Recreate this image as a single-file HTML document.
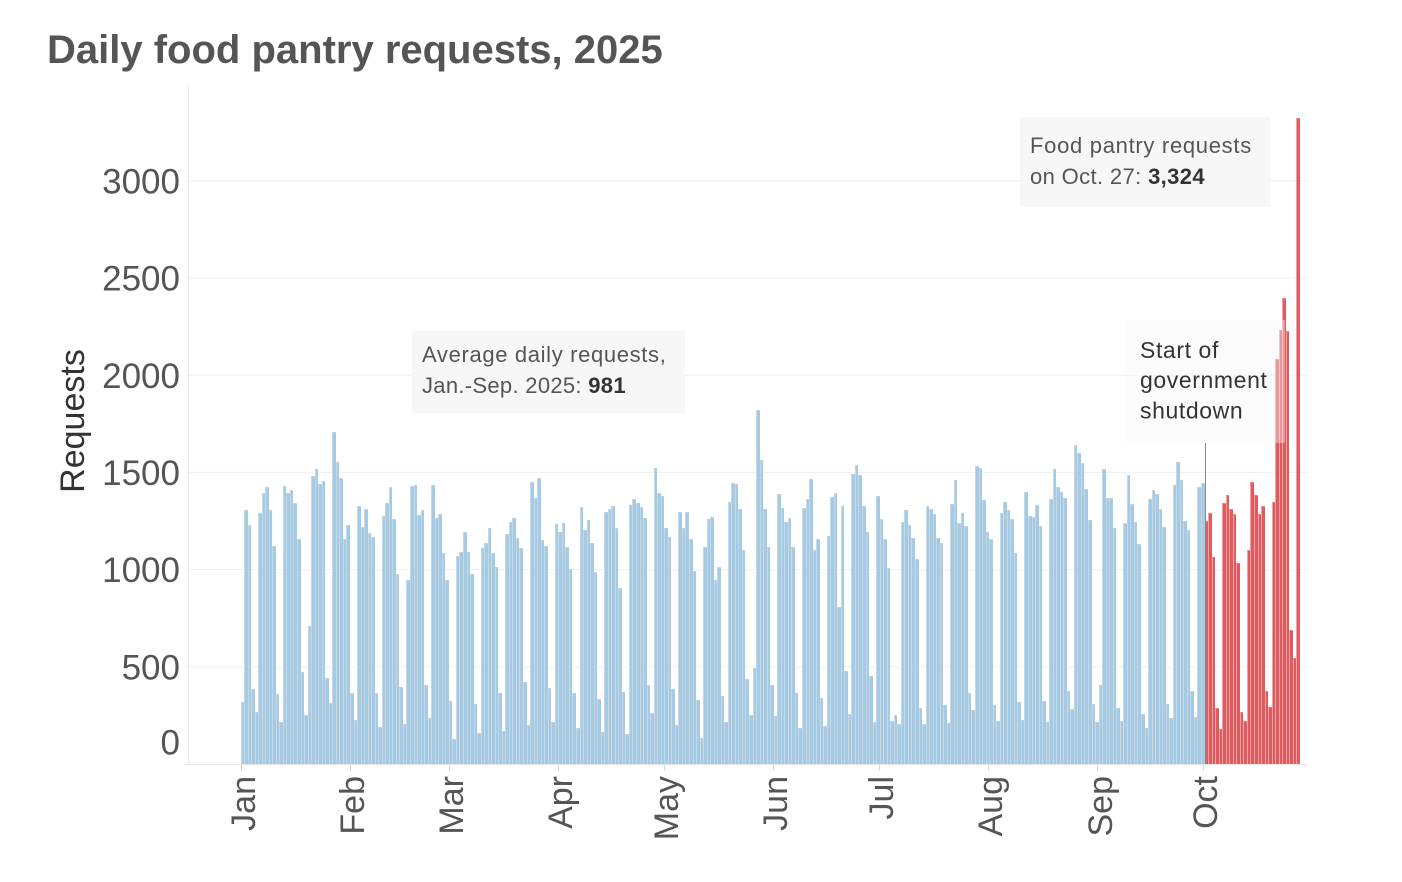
<!DOCTYPE html>
<html>
<head>
<meta charset="utf-8">
<style>
  html,body{margin:0;padding:0;background:#fff;}
  body{width:1402px;height:882px;overflow:hidden;position:relative;font-family:"Liberation Sans",Arial,sans-serif;}
  svg{position:absolute;left:0;top:0;}
  .bars{position:absolute;left:240.5px;top:0;height:764px;display:flex;align-items:flex-end;}
  .bars i{display:block;flex:0 0 3.535px;width:3.535px;box-sizing:border-box;height:calc(var(--v)*0.1944px);background:#a4cbe6;border-left:1px solid #cbd7e0;border-top:1px solid #c3d0da;}
  .bars i.r{background:#e05a5e;border-left:1px solid #e9a5a7;border-top:1px solid #d9898b;}
</style>
</head>
<body>
<svg width="1402" height="882" xmlns="http://www.w3.org/2000/svg">
  <text x="47" y="63" font-family="Liberation Sans, Arial, sans-serif" font-weight="bold" font-size="40" fill="#555">Daily food pantry requests, 2025</text>
  <g stroke="#efefef" stroke-width="1">
    <line x1="188" y1="666.8" x2="1308" y2="666.8"/>
    <line x1="188" y1="569.6" x2="1308" y2="569.6"/>
    <line x1="188" y1="472.4" x2="1308" y2="472.4"/>
    <line x1="188" y1="375.2" x2="1308" y2="375.2"/>
    <line x1="188" y1="278" x2="1308" y2="278"/>
    <line x1="188" y1="180.8" x2="1308" y2="180.8"/>
  </g>
  <line x1="188.5" y1="85" x2="188.5" y2="764" stroke="#e8e8e8" stroke-width="1"/>
  <line x1="184" y1="764.5" x2="1308" y2="764.5" stroke="#e4e4e4" stroke-width="1"/>
  <g stroke="#dddddd" stroke-width="1">
    <line x1="241.5" y1="765" x2="241.5" y2="771"/>
    <line x1="350.5" y1="765" x2="350.5" y2="771"/>
    <line x1="449.5" y1="765" x2="449.5" y2="771"/>
    <line x1="558.5" y1="765" x2="558.5" y2="771"/>
    <line x1="664.5" y1="765" x2="664.5" y2="771"/>
    <line x1="773.5" y1="765" x2="773.5" y2="771"/>
    <line x1="879.5" y1="765" x2="879.5" y2="771"/>
    <line x1="988.5" y1="765" x2="988.5" y2="771"/>
    <line x1="1097.5" y1="765" x2="1097.5" y2="771"/>
    <line x1="1203.5" y1="765" x2="1203.5" y2="771"/>
  </g>
  <g font-family="Liberation Sans, Arial, sans-serif" font-size="35" fill="#555" text-anchor="end">
    <text x="180" y="193.5">3000</text>
    <text x="180" y="290.5">2500</text>
    <text x="180" y="388">2000</text>
    <text x="180" y="485">1500</text>
    <text x="180" y="582">1000</text>
    <text x="180" y="679.5">500</text>
    <text x="180" y="754.5">0</text>
  </g>
  <text transform="translate(84,421) rotate(-90)" text-anchor="middle" font-family="Liberation Sans, Arial, sans-serif" font-size="34" fill="#333">Requests</text>
  <g font-family="Liberation Sans, Arial, sans-serif" font-size="34" fill="#555" text-anchor="end">
    <text transform="translate(255,776) rotate(-90)">Jan</text>
    <text transform="translate(364,776) rotate(-90)">Feb</text>
    <text transform="translate(463,776) rotate(-90)">Mar</text>
    <text transform="translate(572,776) rotate(-90)">Apr</text>
    <text transform="translate(678,776) rotate(-90)">May</text>
    <text transform="translate(787,776) rotate(-90)">Jun</text>
    <text transform="translate(893,776) rotate(-90)">Jul</text>
    <text transform="translate(1002,776) rotate(-90)">Aug</text>
    <text transform="translate(1112,776) rotate(-90)">Sep</text>
    <text transform="translate(1217,776) rotate(-90)">Oct</text>
  </g>
</svg>

<div class="bars">
<i style="--v:320"></i><i style="--v:1307"></i><i style="--v:1230"></i><i style="--v:387"></i><i style="--v:268"></i><i style="--v:1293"></i><i style="--v:1396"></i><i style="--v:1425"></i><i style="--v:1307"></i><i style="--v:1122"></i>
<i style="--v:360"></i><i style="--v:216"></i><i style="--v:1430"></i><i style="--v:1396"></i><i style="--v:1408"></i><i style="--v:1345"></i><i style="--v:1156"></i><i style="--v:473"></i><i style="--v:250"></i><i style="--v:712"></i>
<i style="--v:1481"></i><i style="--v:1520"></i><i style="--v:1442"></i><i style="--v:1454"></i><i style="--v:445"></i><i style="--v:314"></i><i style="--v:1709"></i><i style="--v:1555"></i><i style="--v:1469"></i><i style="--v:1156"></i>
<i style="--v:1230"></i><i style="--v:365"></i><i style="--v:228"></i><i style="--v:1327"></i><i style="--v:1220"></i><i style="--v:1310"></i><i style="--v:1186"></i><i style="--v:1168"></i><i style="--v:365"></i><i style="--v:189"></i>
<i style="--v:1276"></i><i style="--v:1345"></i><i style="--v:1425"></i><i style="--v:1259"></i><i style="--v:980"></i><i style="--v:394"></i><i style="--v:206"></i><i style="--v:946"></i><i style="--v:1430"></i><i style="--v:1436"></i>
<i style="--v:1281"></i><i style="--v:1307"></i><i style="--v:409"></i><i style="--v:238"></i><i style="--v:1435"></i><i style="--v:1264"></i><i style="--v:1288"></i><i style="--v:1088"></i><i style="--v:946"></i><i style="--v:324"></i>
<i style="--v:131"></i><i style="--v:1071"></i><i style="--v:1093"></i><i style="--v:1196"></i><i style="--v:1093"></i><i style="--v:980"></i><i style="--v:307"></i><i style="--v:160"></i><i style="--v:1110"></i><i style="--v:1139"></i>
<i style="--v:1213"></i><i style="--v:1083"></i><i style="--v:1015"></i><i style="--v:365"></i><i style="--v:170"></i><i style="--v:1185"></i><i style="--v:1247"></i><i style="--v:1264"></i><i style="--v:1162"></i><i style="--v:1110"></i>
<i style="--v:421"></i><i style="--v:199"></i><i style="--v:1452"></i><i style="--v:1367"></i><i style="--v:1469"></i><i style="--v:1151"></i><i style="--v:1122"></i><i style="--v:392"></i><i style="--v:216"></i><i style="--v:1237"></i>
<i style="--v:1196"></i><i style="--v:1242"></i><i style="--v:1117"></i><i style="--v:1003"></i><i style="--v:365"></i><i style="--v:187"></i><i style="--v:1322"></i><i style="--v:1203"></i><i style="--v:1254"></i><i style="--v:1139"></i>
<i style="--v:986"></i><i style="--v:336"></i><i style="--v:165"></i><i style="--v:1298"></i><i style="--v:1314"></i><i style="--v:1327"></i><i style="--v:1213"></i><i style="--v:905"></i><i style="--v:370"></i><i style="--v:153"></i>
<i style="--v:1332"></i><i style="--v:1362"></i><i style="--v:1345"></i><i style="--v:1322"></i><i style="--v:1264"></i><i style="--v:409"></i><i style="--v:262"></i><i style="--v:1521"></i><i style="--v:1396"></i><i style="--v:1379"></i>
<i style="--v:1213"></i><i style="--v:1168"></i><i style="--v:387"></i><i style="--v:199"></i><i style="--v:1298"></i><i style="--v:1213"></i><i style="--v:1298"></i><i style="--v:1156"></i><i style="--v:991"></i><i style="--v:331"></i>
<i style="--v:136"></i><i style="--v:1117"></i><i style="--v:1259"></i><i style="--v:1271"></i><i style="--v:946"></i><i style="--v:1015"></i><i style="--v:348"></i><i style="--v:216"></i><i style="--v:1350"></i><i style="--v:1447"></i>
<i style="--v:1442"></i><i style="--v:1310"></i><i style="--v:1100"></i><i style="--v:438"></i><i style="--v:250"></i><i style="--v:495"></i><i style="--v:1823"></i><i style="--v:1562"></i><i style="--v:1310"></i><i style="--v:1117"></i>
<i style="--v:404"></i><i style="--v:245"></i><i style="--v:1391"></i><i style="--v:1315"></i><i style="--v:1247"></i><i style="--v:1264"></i><i style="--v:1117"></i><i style="--v:365"></i><i style="--v:187"></i><i style="--v:1315"></i>
<i style="--v:1362"></i><i style="--v:1464"></i><i style="--v:1100"></i><i style="--v:1156"></i><i style="--v:341"></i><i style="--v:194"></i><i style="--v:1173"></i><i style="--v:1373"></i><i style="--v:1396"></i><i style="--v:809"></i>
<i style="--v:1327"></i><i style="--v:478"></i><i style="--v:255"></i><i style="--v:1493"></i><i style="--v:1537"></i><i style="--v:1486"></i><i style="--v:1327"></i><i style="--v:1196"></i><i style="--v:455"></i><i style="--v:216"></i>
<i style="--v:1379"></i><i style="--v:1259"></i><i style="--v:1156"></i><i style="--v:1008"></i><i style="--v:222"></i><i style="--v:250"></i><i style="--v:204"></i><i style="--v:1247"></i><i style="--v:1305"></i><i style="--v:1230"></i>
<i style="--v:1162"></i><i style="--v:1054"></i><i style="--v:290"></i><i style="--v:204"></i><i style="--v:1327"></i><i style="--v:1310"></i><i style="--v:1288"></i><i style="--v:1162"></i><i style="--v:1139"></i><i style="--v:302"></i>
<i style="--v:211"></i><i style="--v:1340"></i><i style="--v:1459"></i><i style="--v:1242"></i><i style="--v:1293"></i><i style="--v:1225"></i><i style="--v:365"></i><i style="--v:279"></i><i style="--v:1532"></i><i style="--v:1521"></i>
<i style="--v:1356"></i><i style="--v:1196"></i><i style="--v:1156"></i><i style="--v:302"></i><i style="--v:222"></i><i style="--v:1293"></i><i style="--v:1350"></i><i style="--v:1305"></i><i style="--v:1259"></i><i style="--v:1088"></i>
<i style="--v:319"></i><i style="--v:228"></i><i style="--v:1401"></i><i style="--v:1276"></i><i style="--v:1271"></i><i style="--v:1332"></i><i style="--v:1225"></i><i style="--v:324"></i><i style="--v:216"></i><i style="--v:1362"></i>
<i style="--v:1515"></i><i style="--v:1425"></i><i style="--v:1401"></i><i style="--v:1367"></i><i style="--v:375"></i><i style="--v:285"></i><i style="--v:1640"></i><i style="--v:1601"></i><i style="--v:1550"></i><i style="--v:1413"></i>
<i style="--v:1254"></i><i style="--v:307"></i><i style="--v:216"></i><i style="--v:404"></i><i style="--v:1515"></i><i style="--v:1367"></i><i style="--v:1367"></i><i style="--v:1213"></i><i style="--v:290"></i><i style="--v:222"></i>
<i style="--v:1242"></i><i style="--v:1486"></i><i style="--v:1340"></i><i style="--v:1247"></i><i style="--v:1130"></i><i style="--v:259"></i><i style="--v:186"></i><i style="--v:1363"></i><i style="--v:1411"></i><i style="--v:1389"></i>
<i style="--v:1314"></i><i style="--v:1217"></i><i style="--v:309"></i><i style="--v:238"></i><i style="--v:1433"></i><i style="--v:1556"></i><i style="--v:1461"></i><i style="--v:1249"></i><i style="--v:1206"></i><i style="--v:374"></i>
<i style="--v:244"></i><i style="--v:1426"></i><i style="--v:1443"></i><i class="r" style="--v:1249"></i><i class="r" style="--v:1292"></i><i class="r" style="--v:1065"></i><i class="r" style="--v:287"></i><i class="r" style="--v:179"></i><i class="r" style="--v:1342"></i><i class="r" style="--v:1383"></i>
<i class="r" style="--v:1314"></i><i class="r" style="--v:1286"></i><i class="r" style="--v:1033"></i><i class="r" style="--v:270"></i><i class="r" style="--v:223"></i><i class="r" style="--v:1102"></i><i class="r" style="--v:1450"></i><i class="r" style="--v:1385"></i><i class="r" style="--v:1288"></i><i class="r" style="--v:1325"></i>
<i class="r" style="--v:374"></i><i class="r" style="--v:292"></i><i class="r" style="--v:1346"></i><i class="r" style="--v:2085"></i><i class="r" style="--v:2232"></i><i class="r" style="--v:2398"></i><i class="r" style="--v:2228"></i><i class="r" style="--v:687"></i><i class="r" style="--v:547"></i><i class="r" style="--v:3324"></i>
</div>

<svg width="1402" height="882" xmlns="http://www.w3.org/2000/svg">
  <line x1="1205.5" y1="443" x2="1205.5" y2="764" stroke="#8a8a8a" stroke-width="1"/>
  <rect x="412" y="331" width="273" height="82" fill="#f7f7f7"/>
  <g font-family="Liberation Sans, Arial, sans-serif" font-size="22" fill="#555">
    <text x="422" y="362" letter-spacing="0.65">Average daily requests,</text>
    <text x="422" y="393" letter-spacing="0.3">Jan.-Sep. 2025: <tspan font-weight="bold" fill="#333">981</tspan></text>
  </g>
  <rect x="1020" y="117" width="250" height="90" fill="#f7f7f7"/>
  <g font-family="Liberation Sans, Arial, sans-serif" font-size="22" fill="#555">
    <text x="1030" y="153" letter-spacing="0.7">Food pantry requests</text>
    <text x="1030" y="184" letter-spacing="0.36">on Oct. 27: <tspan font-weight="bold" fill="#333">3,324</tspan></text>
  </g>
  <rect x="1126" y="320" width="159" height="123" fill="#f8f8f8" fill-opacity="0.4"/>
  <g font-family="Liberation Sans, Arial, sans-serif" font-size="23" fill="#333" letter-spacing="0.6">
    <text x="1140" y="358">Start of</text>
    <text x="1140" y="388">government</text>
    <text x="1140" y="418.5">shutdown</text>
  </g>
</svg>
</body>
</html>
